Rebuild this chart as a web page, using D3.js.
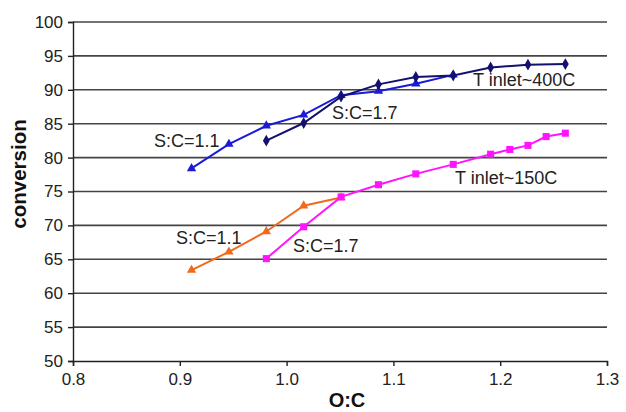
<!DOCTYPE html>
<html>
<head>
<meta charset="utf-8">
<script src="https://cdn.jsdelivr.net/npm/d3@7"></script>
<style>
  body { margin: 0; background: #fff; }
  svg text { font-family: "Liberation Sans", Arial, sans-serif; }
</style>
</head>
<body>
<svg id="chart"></svg>
<script>
// O:C values and conversion for each run
const blueOC   = [0.911, 0.946, 0.981, 1.016, 1.051, 1.086, 1.121, 1.156];
const blueConv = [78.4, 82.0, 84.7, 86.3, 89.2, 89.8, 90.9, 92.2];

const navyOC   = [0.981, 1.016, 1.051, 1.086, 1.121, 1.156, 1.191, 1.226, 1.261];
const navyConv = [82.5, 85.1, 89.0, 90.8, 91.9, 92.1, 93.3, 93.7, 93.8];

const orangeOC   = [0.911, 0.946, 0.981, 1.016, 1.051];
const orangeConv = [63.4, 66.1, 69.1, 72.9, 74.1];

const magentaOC   = [0.981, 1.016, 1.051, 1.086, 1.121, 1.156, 1.191, 1.209, 1.226, 1.243, 1.261];
const magentaConv = [65.1, 69.8, 74.2, 76.0, 77.6, 79.0, 80.5, 81.2, 81.8, 83.1, 83.6];

const xTicks = [0.8, 0.9, 1.0, 1.1, 1.2, 1.3];
const yTicks = [50, 55, 60, 65, 70, 75, 80, 85, 90, 95, 100];

const width = 626, height = 412;
const margin = { top: 22, right: 19, bottom: 51, left: 73 };

const svg = d3.select("#chart")
    .attr("width", width)
    .attr("height", height);

const x = d3.scaleLinear().domain([0.8, 1.3]).range([margin.left, width - margin.right]);
const y = d3.scaleLinear().domain([50, 100]).range([height - margin.bottom, margin.top]);

// horizontal gridlines
svg.append("g")
    .selectAll("line")
    .data(yTicks.filter(d => d > 50))
    .join("line")
    .attr("x1", x(0.8))
    .attr("x2", x(1.3))
    .attr("y1", d => y(d))
    .attr("y2", d => y(d))
    .attr("stroke", "#444")
    .attr("stroke-width", 1.6);

const yAxis = svg.append("g")
    .attr("transform", `translate(${margin.left},0)`)
    .call(d3.axisLeft(y).tickValues(yTicks).tickSize(5).tickPadding(5).tickFormat(d3.format("d")));

const xAxis = svg.append("g")
    .attr("transform", `translate(0,${height - margin.bottom})`)
    .call(d3.axisBottom(x).tickValues(xTicks).tickSize(5).tickPadding(7).tickFormat(d3.format(".1f")));

[yAxis, xAxis].forEach(a => {
    a.select(".domain").attr("stroke", "#222").attr("stroke-width", 1.4);
    a.selectAll(".tick line").attr("stroke", "#222").attr("stroke-width", 1.4);
    a.selectAll(".tick text")
        .attr("font-size", 17)
        .attr("fill", "#222")
        .style("font-family", "'Liberation Sans', Arial, sans-serif");
});

// axis titles
svg.append("text")
    .attr("x", 347)
    .attr("y", 407)
    .attr("text-anchor", "middle")
    .attr("font-size", 20)
    .attr("font-weight", "bold")
    .attr("fill", "#111")
    .text("O:C");

svg.append("text")
    .attr("transform", "translate(26,174) rotate(-90)")
    .attr("text-anchor", "middle")
    .attr("font-size", 20.5)
    .attr("font-weight", "bold")
    .attr("fill", "#111")
    .text("conversion");

const line = d3.line().x(d => x(d[0])).y(d => y(d[1]));

const series = [
    { oc: blueOC, conv: blueConv, color: "#1a1ad8", symbol: d3.symbolTriangle, size: 38 },
    { oc: navyOC, conv: navyConv, color: "#12126e", symbol: d3.symbolDiamond, size: 40 },
    { oc: orangeOC, conv: orangeConv, color: "#f06a1e", symbol: d3.symbolTriangle, size: 38 },
    { oc: magentaOC, conv: magentaConv, color: "#ff14ff", symbol: d3.symbolSquare, size: 50 }
];

series.forEach(s => {
    const pts = s.oc.map((v, i) => [v, s.conv[i]]);
    const g = svg.append("g");
    g.append("path")
        .datum(pts)
        .attr("d", line)
        .attr("fill", "none")
        .attr("stroke", s.color)
        .attr("stroke-width", 2);
    g.selectAll("path.pt")
        .data(pts)
        .join("path")
        .attr("class", "pt")
        .attr("transform", d => `translate(${x(d[0])},${y(d[1])})`)
        .attr("d", d3.symbol().type(s.symbol).size(s.size))
        .attr("fill", s.color);
});

// in-plot labels
const labels = [
    { text: "S:C=1.1", x: 154, y: 147 },
    { text: "T inlet~400C", x: 473, y: 86 },
    { text: "S:C=1.7", x: 332, y: 119 },
    { text: "T inlet~150C", x: 455, y: 184 },
    { text: "S:C=1.1", x: 176, y: 244 },
    { text: "S:C=1.7", x: 293, y: 252 }
];

svg.append("g")
    .selectAll("text")
    .data(labels)
    .join("text")
    .attr("x", d => d.x)
    .attr("y", d => d.y)
    .attr("font-size", 18)
    .attr("fill", "#222")
    .text(d => d.text);
</script>
</body>
</html>
